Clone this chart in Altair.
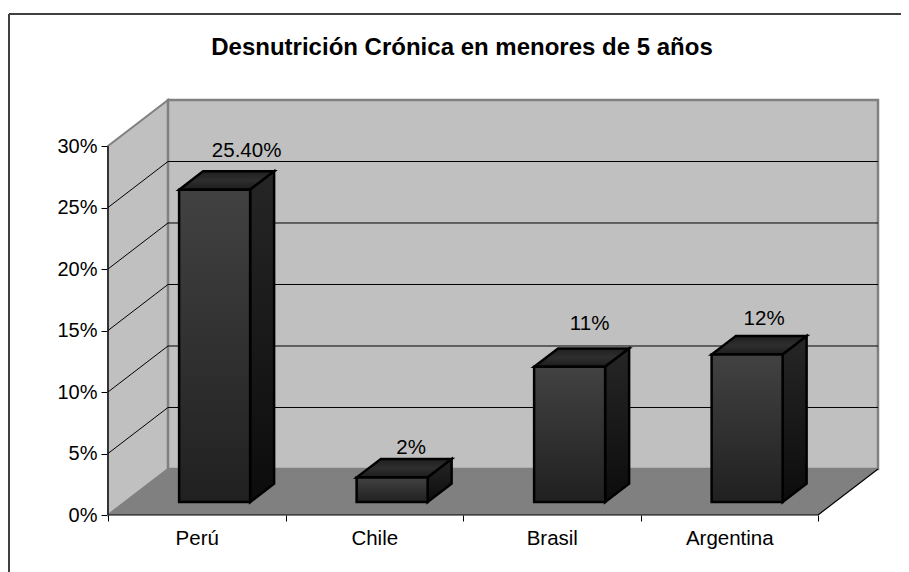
import altair as alt
import pandas as pd

TITLE = "Desnutrición Crónica en menores de 5 años"
CATEGORIES = ["Perú", "Chile", "Brasil", "Argentina"]
VALUES = [25.4, 2, 11, 12]
LABELS = ["25.40%", "2%", "11%", "12%"]
Y_TICKS = [0, 5, 10, 15, 20, 25, 30]

# oblique projection: one unit of depth moves this far along x (categories) and y (percent)
DX, DY = 0.338, 3.74
BAR_W, D0, D1 = 0.4, 0.28, 0.68
N = len(CATEGORIES)
YMAX = max(Y_TICKS)
FONT = "Liberation Sans"
W, H = 770, 415
PAD_L, PAD_T, PAD_R, PAD_B = 100, 92, 23, 57
xs = alt.Scale(domain=[0, N + DX], nice=False, zero=False)
ys = alt.Scale(domain=[0, YMAX + DY], nice=False, zero=False)
X = lambda f="x": alt.X(f"{f}:Q", scale=xs, title=None)
Y = lambda f="y": alt.Y(f"{f}:Q", scale=ys, title=None)
GX2, GY2 = alt.X2("x2:Q"), alt.Y2("y2:Q")

side_wall = pd.DataFrame([
    {"x": d * DX, "y": d * DY, "y2": YMAX + d * DY} for d in (0, 1)])
back_wall = pd.DataFrame([{"x": DX, "x2": N + DX, "y": DY, "y2": YMAX + DY}])
floor = pd.DataFrame([
    {"y": d * DY, "x": d * DX, "x2": N + d * DX} for d in (0, 1)])

grid = pd.DataFrame(
    [{"v": v, "x": 0, "y": v} for v in Y_TICKS if 0 < v < YMAX]
    + [{"v": v, "x": DX, "y": v + DY} for v in Y_TICKS if 0 < v < YMAX]
    + [{"v": v, "x": N + DX, "y": v + DY} for v in Y_TICKS if 0 < v < YMAX])
edges = pd.DataFrame([
    {"e": "axis_y", "x": 0, "y": 0}, {"e": "axis_y", "x": 0, "y": YMAX},
    {"e": "axis_x", "x": 0, "y": 0}, {"e": "axis_x", "x": N, "y": 0},
    {"e": "floor_r", "x": N, "y": 0}, {"e": "floor_r", "x": N + DX, "y": DY}])

fronts, tops, sides, texts = [], [], [], []
for i, (c, v, t) in enumerate(zip(CATEGORIES, VALUES, LABELS)):
    left = i + 0.506 - BAR_W / 2
    fl = left + D0 * DX
    fronts.append({"c": c, "x": fl, "x2": fl + BAR_W, "y": D0 * DY, "y2": v + D0 * DY})
    for d in (D0, D1):
        tops.append({"c": c, "y": v + d * DY, "x": left + d * DX, "x2": left + BAR_W + d * DX})
        sides.append({"c": c, "x": left + BAR_W + d * DX, "y": d * DY, "y2": v + d * DY})
    texts.append({"c": c, "t": t, "x": left + BAR_W / 2 + D1 * DX, "y": v + D1 * DY})


def grad(*colors):
    n = len(colors) - 1
    return alt.Gradient(gradient="linear", x1=0, x2=0, y1=0, y2=1,
                        stops=[alt.GradientStop(color=col, offset=k / n)
                               for k, col in enumerate(colors)])


BAR_STROKE = dict(stroke="#000000", strokeWidth=2.5, strokeJoin="miter")
layers = [
    alt.Chart(side_wall).mark_area(fill="#c0c0c0", stroke="#808080", strokeWidth=2).encode(
        x=X(), y=Y(), y2=GY2),
    alt.Chart(back_wall).mark_rect(fill="#c0c0c0", stroke="#808080", strokeWidth=2.5).encode(
        x=X(), x2=GX2, y=Y(), y2=GY2),
    alt.Chart(floor).mark_area(orient="horizontal", fill="#808080").encode(
        y=Y(), x=X(), x2=GX2),
    alt.Chart(grid).mark_line(color="#000000", strokeWidth=1).encode(
        x=X(), y=Y(), detail="v:N"),
    alt.Chart(edges).mark_line(color="#000000", strokeWidth=1.2).encode(
        x=X(), y=Y(), detail="e:N"),
    alt.Chart(pd.DataFrame(tops)).mark_area(
        orient="horizontal", fill=grad("#202020", "#2e2e2e", "#1c1c1c"), **BAR_STROKE).encode(
        y=Y(), x=X(), x2=GX2, detail="c:N"),
    alt.Chart(pd.DataFrame(sides)).mark_area(
        fill=grad("#262626", "#0c0c0c"), **BAR_STROKE).encode(
        x=X(), y=Y(), y2=GY2, detail="c:N"),
    alt.Chart(pd.DataFrame(fronts)).mark_rect(
        fill=grad("#424242", "#202020"), **BAR_STROKE).encode(
        x=X(), x2=GX2, y=Y(), y2=GY2),
]

# label nudges from the spot above each bar's back top edge
NUDGE = {"Perú": (8, -20), "Chile": (-5, -11), "Brasil": (-4, -24), "Argentina": (-7, -17)}
for row in texts:
    dx, dy = NUDGE[row["c"]]
    layers.append(alt.Chart(pd.DataFrame([row])).mark_text(
        font=FONT, fontSize=20.5, color="#000000", dx=dx, dy=dy, baseline="middle").encode(
        x=X(), y=Y(), text="t:N"))

frame = pd.DataFrame([{"a": 1}])
layers.append(alt.Chart(frame).mark_rule(color="#404040", strokeWidth=2).encode(
    x=alt.value(-99), x2=alt.value(W + PAD_R), y=alt.value(-86)))
layers.append(alt.Chart(frame).mark_rule(color="#404040", strokeWidth=2).encode(
    x=alt.value(-99), y=alt.value(-86), y2=alt.value(H + PAD_B)))
layers.append(alt.Chart(pd.DataFrame([{"t": TITLE}])).mark_text(
    font=FONT, fontSize=24, fontWeight="bold", color="#000000", align="center",
    baseline="alphabetic").encode(x=alt.value(354), y=alt.value(-45), text="t:N"))

# axes live on one invisible layer
axes = alt.Chart(pd.DataFrame([{"x": 0, "y": 0}])).mark_point(opacity=0).encode(
    x=alt.X("x:Q", scale=xs, title=None, axis=alt.Axis(
        values=list(range(N + 1)), domain=False, grid=False, tickColor="#000000",
        tickSize=6, labelFont=FONT, labelFontSize=20.5, labelColor="#000000",
        labelOffset=W / (N + DX) / 2, labelPadding=7, labelOverlap=False, labelFlush=False,
        labelExpr="[" + ",".join(repr(c) for c in CATEGORIES) + ",''][datum.value]")),
    y=alt.Y("y:Q", scale=ys, title=None, axis=alt.Axis(
        values=Y_TICKS, domain=False, grid=False, tickColor="#000000", tickSize=7,
        labelFont=FONT, labelFontSize=20, labelColor="#000000", labelPadding=4,
        labelExpr="datum.value + '%'")),
)
layers.append(axes)

chart = alt.layer(*layers).properties(
    width=W, height=H,
    background="#ffffff",
    autosize=alt.AutoSizeParams(type="none"),
    padding={"left": PAD_L, "top": PAD_T, "right": PAD_R, "bottom": PAD_B},
).configure_view(stroke="transparent", strokeWidth=0)

chart.save("out.html", embed_options={"renderer": "svg", "actions": False})
